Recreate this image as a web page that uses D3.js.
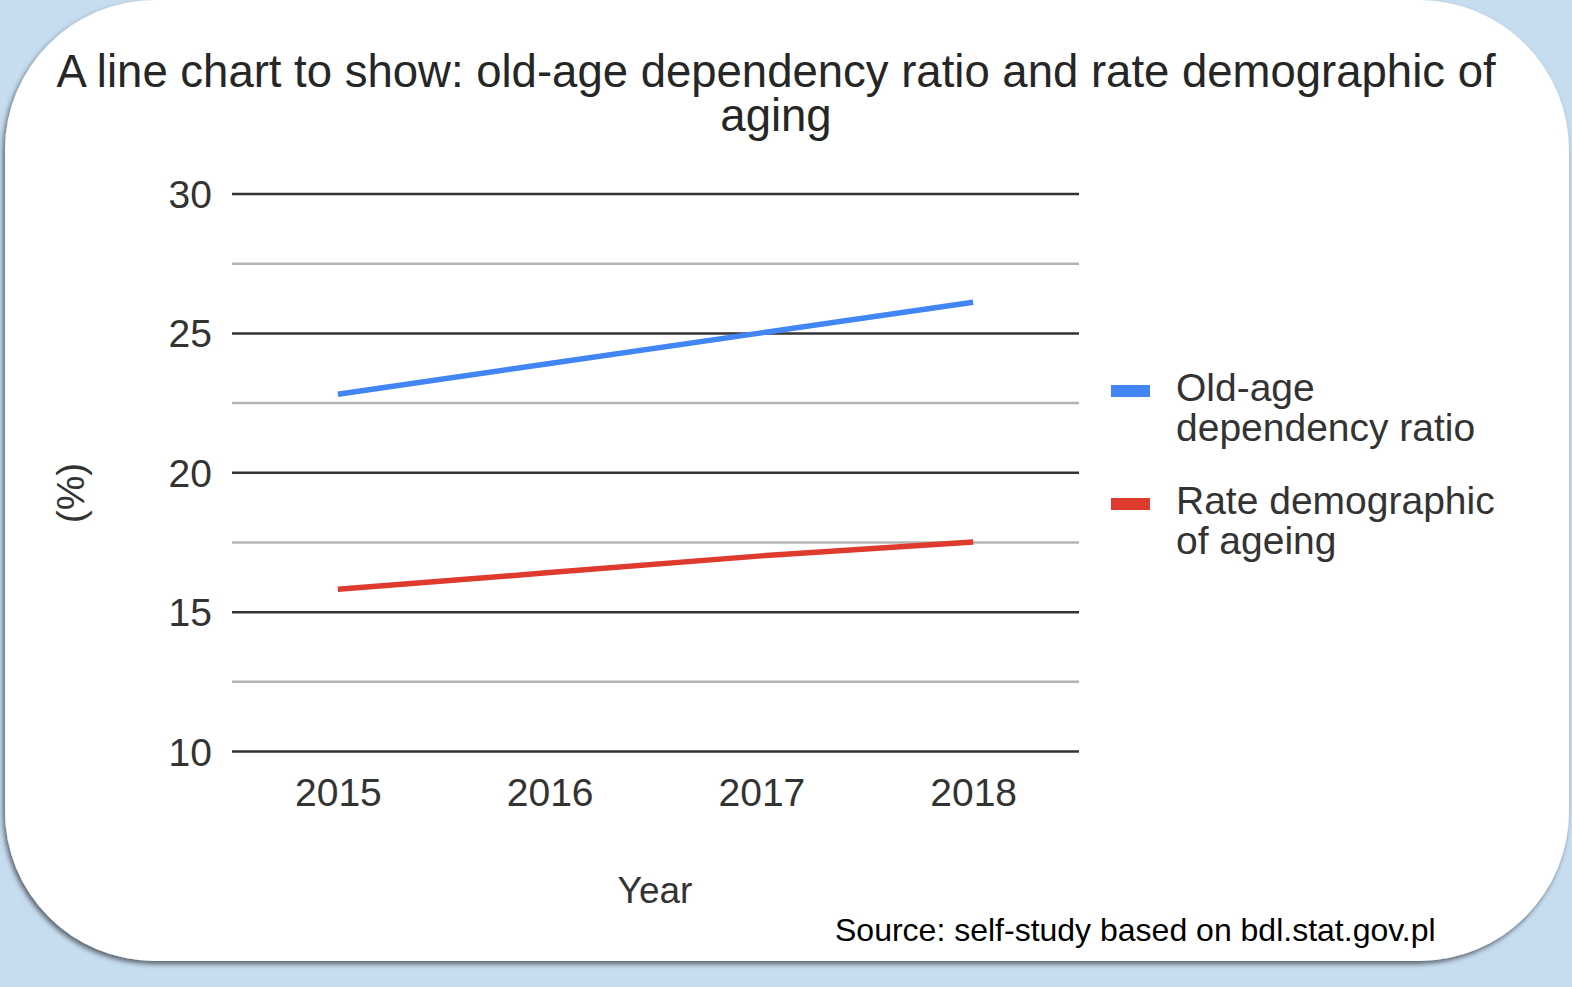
<!DOCTYPE html>
<html><head><meta charset="utf-8">
<script src="https://cdn.jsdelivr.net/npm/d3@7"></script>
<style>
html,body{margin:0;padding:0;background:#c6dcef;}
svg{display:block;font-family:"Liberation Sans",Arial,sans-serif;}
</style></head>
<body>
<svg id="chart" width="1572" height="987"></svg>
<script>
const years = ["2015", "2016", "2017", "2018"];
const oldAgeDependency = [22.8, 23.9, 25.0, 26.1];
const rateDemographicAgeing = [15.8, 16.4, 17.0, 17.5];
const seriesNames = ["Old-age dependency ratio", "Rate demographic of ageing"];
const seriesColors = ["#4285f4", "#de3a2e"];
const yTickValues = [10, 12.5, 15, 17.5, 20, 22.5, 25, 27.5, 30];
const yLabelValues = [10, 15, 20, 25, 30];
const titleLines = ["A line chart to show: old-age dependency ratio and rate demographic of", "aging"];
const xTitle = "Year";
const yTitle = "(%)";
const sourceText = "Source: self-study based on bdl.stat.gov.pl";

(function(){
const svg = d3.select("#chart");
const defs = svg.append("defs");
const f = defs.append("filter").attr("id","sh").attr("x","-5%").attr("y","-5%").attr("width","110%").attr("height","112%");
f.append("feDropShadow").attr("dx",-2).attr("dy",3).attr("stdDeviation",2.5).attr("flood-color","#000").attr("flood-opacity",0.55);

svg.append("rect").attr("width",1572).attr("height",987).attr("fill","#c6dcef");
svg.append("rect").attr("x",5).attr("y",0).attr("width",1564).attr("height",961)
  .attr("rx",150).attr("ry",150).attr("fill","#ffffff").attr("filter","url(#sh)");

const title = svg.append("text").attr("text-anchor","middle").attr("fill","#262626")
  .style("font-size","45.5px");
titleLines.forEach((t,i)=>{
  title.append("tspan").attr("x",776).attr("y",87 + i*44).text(t);
});

const pl = 232, pr = 1079, pt = 193.5, pb = 751;
const x = d3.scalePoint().domain(years).range([pl,pr]).padding(0.5);
const y = d3.scaleLinear().domain([10,30]).range([pb,pt]);

const yAxis = d3.axisLeft(y).tickValues(yTickValues).tickSize(-(pr-pl)).tickPadding(20)
  .tickFormat(d => yLabelValues.includes(d) ? d3.format("d")(d) : "");
const gy = svg.append("g").attr("transform",`translate(${pl},0)`).call(yAxis);
gy.select(".domain").remove();
gy.selectAll(".tick line")
  .attr("stroke", d => yLabelValues.includes(d) ? "#333333" : "#b4b4b4")
  .attr("stroke-width", 2.5);
gy.selectAll(".tick text").attr("fill","#333").style("font-size","39px")
  .style("font-family","'Liberation Sans',Arial,sans-serif").attr("dy","0.36em");

const xAxis = d3.axisBottom(x).tickSize(0).tickPadding(0);
const gx = svg.append("g").attr("transform",`translate(0,${pb})`).call(xAxis);
gx.select(".domain").remove();
gx.selectAll(".tick text").attr("fill","#333").style("font-size","39px")
  .style("font-family","'Liberation Sans',Arial,sans-serif").attr("y",55).attr("dy",0);

const line = d3.line().x((d,i)=>x(years[i])).y(d=>y(d));
[oldAgeDependency, rateDemographicAgeing].forEach((s,i)=>{
  svg.append("path").datum(s).attr("d",line).attr("fill","none")
    .attr("stroke",seriesColors[i]).attr("stroke-width",5.5);
});

svg.append("text").attr("x",655).attr("y",903).attr("text-anchor","middle")
  .attr("fill","#333").style("font-size","37px").text(xTitle);
svg.append("text").attr("transform","translate(84,493) rotate(-90)").attr("text-anchor","middle")
  .attr("fill","#333").style("font-size","39px").text(yTitle);

const legendLines = [["Old-age","dependency ratio"],["Rate demographic","of ageing"]];
const legendY = [391, 504];
legendLines.forEach((lines,i)=>{
  svg.append("rect").attr("x",1111).attr("y",legendY[i]-6).attr("width",39).attr("height",12)
    .attr("fill",seriesColors[i]);
  const t = svg.append("text").attr("fill","#333").style("font-size","39px");
  lines.forEach((l,j)=>{
    t.append("tspan").attr("x",1176).attr("y",legendY[i]+10+j*40).text(l);
  });
});

svg.append("text").attr("x",835).attr("y",941).attr("fill","#000")
  .style("font-size","32px").text(sourceText);
})();
</script>
</body></html>
